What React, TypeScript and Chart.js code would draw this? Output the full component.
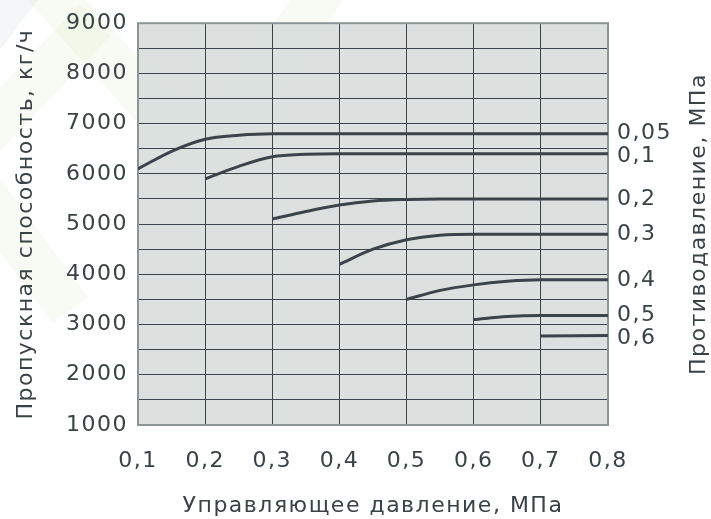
import React, { useEffect, useRef } from 'react';
import { Chart, registerables } from 'chart.js';

Chart.register(...registerables);

const FONT = '"DejaVu Sans", "Noto Sans", sans-serif';
const FONT_SIZE = 22;
const TEXT = '#3a4246';
const LINE = '#3b434b';
const BORDER = '#8d9696';
const SPACING = '1.5px';

// Series: back pressure labels (MPa)
const seriesNames = ['0,05', '0,1', '0,2', '0,3', '0,4', '0,5', '0,6'];

// Control pressure (MPa) and capacity (kg/h) for each curve
const x005 = [0.1, 0.15, 0.2, 0.25, 0.3, 0.8];
const y005 = [6100, 6450, 6690, 6770, 6800, 6800];
const x01 = [0.2, 0.25, 0.3, 0.35, 0.4, 0.8];
const y01 = [5900, 6150, 6340, 6390, 6400, 6400];
const x02 = [0.3, 0.35, 0.4, 0.45, 0.5, 0.55, 0.8];
const y02 = [5100, 5250, 5380, 5460, 5490, 5500, 5500];
const x03 = [0.4, 0.45, 0.5, 0.55, 0.6, 0.8];
const y03 = [4200, 4500, 4690, 4780, 4800, 4800];
const x04 = [0.5, 0.55, 0.6, 0.65, 0.7, 0.8];
const y04 = [3500, 3680, 3790, 3860, 3890, 3890];
const x05 = [0.6, 0.65, 0.7, 0.8];
const y05 = [3100, 3160, 3180, 3180];
const x06 = [0.7, 0.8];
const y06 = [2770, 2780];

const seriesX = [x005, x01, x02, x03, x04, x05, x06];
const seriesY = [y005, y01, y02, y03, y04, y05, y06];

// Axes
const xMin = 0.1;
const xMax = 0.8;
const xStep = 0.1;
const yMin = 1000;
const yMax = 9000;
const yGridStep = 500;
const yLabelStep = 1000;

const xTitle = 'Управляющее давление, МПа';
const yTitle = 'Пропускная способность, кг/ч';
const rightTitle = 'Противодавление, МПа';

const spacingPlugin = {
  id: 'spacing',
  beforeUpdate(c: any) { c.ctx.letterSpacing = SPACING; },
  beforeLayout(c: any) { c.ctx.letterSpacing = SPACING; },
  beforeDraw(c: any) { c.ctx.letterSpacing = SPACING; },
};

const backgroundPlugin = {
  id: 'bg',
  beforeDraw(c: any) {
    const ctx = c.ctx;
    const { left, top, right, bottom } = c.chartArea;
    ctx.save();
    ctx.fillStyle = '#ffffff';
    ctx.fillRect(0, 0, c.width, c.height);
    // faint watermark
    ctx.fillStyle = 'rgba(215,220,224,0.25)';
    ctx.beginPath();
    ctx.moveTo(0, 0);
    ctx.lineTo(38, 0);
    ctx.lineTo(0, 50);
    ctx.closePath();
    ctx.fill();
    ctx.strokeStyle = 'rgba(160,210,120,0.08)';
    ctx.lineWidth = 44;
    ctx.lineCap = 'butt';
    const bands = [
      [[30, -30], [205, 165], [330, -20]],
      [[-30, 175], [70, 310]],
      [[-20, 140], [95, 20]],
    ];
    bands.forEach((b) => {
      ctx.beginPath();
      ctx.moveTo(b[0][0], b[0][1]);
      for (let i = 1; i < b.length; i++) ctx.lineTo(b[i][0], b[i][1]);
      ctx.stroke();
    });
    ctx.fillStyle = 'rgba(214,220,219,0.85)';
    ctx.fillRect(left, top, right - left, bottom - top);
    ctx.restore();
  },
  beforeDatasetsDraw(c: any) {
    const ctx = c.ctx;
    const { left, top, right, bottom } = c.chartArea;
    ctx.save();
    ctx.strokeStyle = BORDER;
    ctx.lineWidth = 2;
    ctx.strokeRect(left, top, right - left, bottom - top);
    ctx.restore();
  },
  afterDatasetsDraw(c: any) {
    const ctx = c.ctx;
    const { right, top, bottom } = c.chartArea;
    ctx.save();
    ctx.letterSpacing = SPACING;
    ctx.fillStyle = TEXT;
    ctx.font = `${FONT_SIZE}px ${FONT}`;
    ctx.textAlign = 'left';
    ctx.textBaseline = 'middle';
    let prev = -Infinity;
    c.data.datasets.forEach((ds: any, i: number) => {
      const meta = c.getDatasetMeta(i);
      const pt = meta.data[meta.data.length - 1];
      let y = pt.y;
      if (y - prev < 23) y = prev + 23;
      prev = y;
      ctx.fillText(ds.label, right + 9, y);
    });
    // right title
    ctx.translate(699, (top + bottom) / 2);
    ctx.rotate(-Math.PI / 2);
    ctx.textAlign = 'center';
    ctx.fillText(rightTitle, 0, 0);
    ctx.restore();
  },
};

export default function App() {
  const ref = useRef<HTMLCanvasElement>(null);

  useEffect(() => {
    document.body.style.margin = '0';
    const canvas = ref.current;
    if (!canvas) return;
    const datasets = seriesNames.map((name, i) => ({
      label: name,
      data: seriesX[i].map((x, j) => ({ x, y: seriesY[i][j] })),
      borderColor: LINE,
      borderWidth: 3,
      pointRadius: 0,
      fill: false,
      cubicInterpolationMode: 'monotone' as const,
    }));
    const font = { family: FONT, size: FONT_SIZE };
    const chart = new Chart(canvas, {
      type: 'line',
      data: { datasets },
      plugins: [spacingPlugin, backgroundPlugin],
      options: {
        animation: false,
        responsive: false,
        devicePixelRatio: 1,
        layout: { padding: { left: 0, right: 103, top: 23, bottom: 0 } },
        plugins: {
          legend: { display: false },
          tooltip: { enabled: false },
        },
        scales: {
          x: {
            type: 'linear',
            min: xMin,
            max: xMax,
            ticks: {
              stepSize: xStep,
              autoSkip: false,
              maxRotation: 0,
              color: TEXT,
              font,
              padding: 23,
              callback: (v: any) => Number(v).toFixed(1).replace('.', ','),
            },
            grid: { color: LINE, lineWidth: 1, drawTicks: false },
            border: { display: false },
            title: {
              display: true,
              text: xTitle,
              color: TEXT,
              font,
              padding: { top: 0, bottom: 0 },
            },
            afterFit: (s: any) => { s.height = 94; },
          },
          y: {
            type: 'linear',
            min: yMin,
            max: yMax,
            ticks: {
              stepSize: yGridStep,
              autoSkip: false,
              color: TEXT,
              font,
              padding: 10,
              callback: (v: any) => (Number(v) % yLabelStep === 0 ? String(v) : ''),
            },
            grid: { color: LINE, lineWidth: 1, drawTicks: false },
            border: { display: false },
            title: {
              display: true,
              text: yTitle,
              color: TEXT,
              font,
              padding: { top: 13, bottom: 0 },
            },
            afterFit: (s: any) => { s.width = 138; },
          },
        },
      },
    });
    return () => chart.destroy();
  }, []);

  return (
    <div style={{ width: 711, height: 519 }}>
      <canvas ref={ref} width={711} height={519} style={{ display: 'block' }} />
    </div>
  );
}
